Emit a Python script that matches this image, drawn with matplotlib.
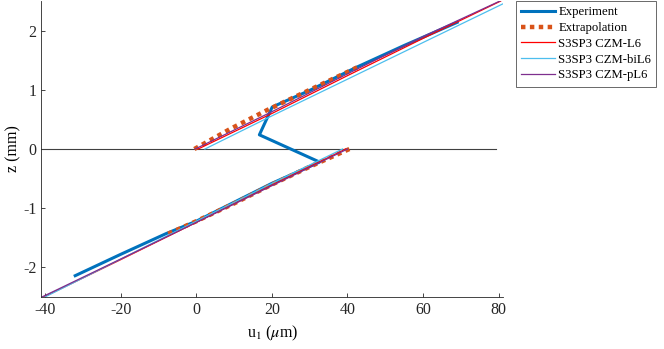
# Through-thickness displacement profile u1(z): experiment, extrapolation and CZM models

import matplotlib
matplotlib.use("Agg")
import matplotlib.pyplot as plt

plt.rcParams['font.family'] = ['Liberation Serif', 'DejaVu Serif']
plt.rcParams['mathtext.fontset'] = 'stix'
plt.rcParams['axes.unicode_minus'] = False

# Experiment (single polyline, lower branch -> kink -> upper branch)
exp_u = [-32, -20, -8, 0, 10, 20, 32.6, 16.7, 20.1, 30, 42, 55, 69]
exp_z = [-2.14, -1.78, -1.43, -1.22, -0.9, -0.58, -0.22, 0.24, 0.71, 0.99, 1.37, 1.75, 2.14]

# Extrapolation, upper and lower branches
ext_up_u = [-0.5, 9, 18.8, 30, 42.9]
ext_up_z = [0, 0.34, 0.66, 1.0, 1.39]
ext_lo_u = [-7.4, 0, 10, 20, 30, 40.5]
ext_lo_z = [-1.43, -1.22, -0.92, -0.6, -0.3, 0]

# Models, upper branches
L6_up_u = [0.5, 20, 40, 60, 80.5]
L6_up_z = [0, 0.6, 1.24, 1.87, 2.5]
biL6_up_u = [2.3, 20, 40, 60, 81]
biL6_up_z = [0, 0.56, 1.18, 1.8, 2.45]
pL6_up_u = [-0.3, 20, 40, 60, 80.3]
pL6_up_z = [0, 0.63, 1.27, 1.9, 2.5]

# Models, lower branches
L6_lo_u = [-40.3, -20, 0, 20, 39.5]
L6_lo_z = [-2.5, -1.87, -1.24, -0.61, 0]
biL6_lo_u = [-40, -20, 0, 20, 38.7]
biL6_lo_z = [-2.5, -1.86, -1.22, -0.58, 0]
pL6_lo_u = [-40.8, -20, 0, 20, 40]
pL6_lo_z = [-2.5, -1.86, -1.24, -0.62, 0]

# Interface line z = 0
iface_u = [-41, 79.2]
iface_z = [0, 0]

c_exp = '#0072BD'
c_ext = '#D95319'
c_L6 = '#FF0000'
c_biL6 = '#4DBEEE'
c_pL6 = '#7E2F8E'

fig = plt.figure(figsize=(6.64, 3.49), dpi=100)
ax = fig.add_axes([0.062, 0.149, 0.696, 0.848])

ax.plot(iface_u, iface_z, color='#404040', lw=0.8)

l1 = ax.plot(exp_u, exp_z, color=c_exp, lw=2.2, label='Experiment')
l2 = ax.plot(ext_up_u, ext_up_z, color=c_ext, lw=3.2, dashes=(1, 1),
             dash_capstyle='butt', label='Extrapolation')
ax.plot(ext_lo_u, ext_lo_z, color=c_ext, lw=3.2, dashes=(1, 1), dash_capstyle='butt')
l3 = ax.plot(L6_up_u, L6_up_z, color=c_L6, lw=0.9, label='S3SP3 CZM-L6')
ax.plot(L6_lo_u, L6_lo_z, color=c_L6, lw=0.9)
l4 = ax.plot(biL6_up_u, biL6_up_z, color=c_biL6, lw=0.9, label='S3SP3 CZM-biL6')
ax.plot(biL6_lo_u, biL6_lo_z, color=c_biL6, lw=0.9)
l5 = ax.plot(pL6_up_u, pL6_up_z, color=c_pL6, lw=0.9, label='S3SP3 CZM-pL6')
ax.plot(pL6_lo_u, pL6_lo_z, color=c_pL6, lw=0.9)

ax.set_xlim([-41, 81.2])
ax.set_ylim([-2.5, 2.5])
ax.set_xticks([-40, -20, 0, 20, 40, 60, 80])
ax.set_yticks([-2, -1, 0, 1, 2])
ax.tick_params(direction='in', labelsize=11.5, length=3, width=0.6, colors='#262626')
ax.spines['top'].set_visible(False)
ax.spines['right'].set_visible(False)
for s in ('left', 'bottom'):
    ax.spines[s].set_linewidth(0.6)
    ax.spines[s].set_color('#262626')

ax.set_xlabel(r'u$_1$ ($\mu$m)', fontsize=11.5, labelpad=4)
ax.set_ylabel('z (mm)', fontsize=11.5, labelpad=1)

lns = l1 + l2 + l3 + l4 + l5
labels = [l.get_label() for l in lns]
leg = ax.legend(lns, labels, loc='upper left', bbox_to_anchor=(1.028, 1.0),
                fontsize=9.2, frameon=True, fancybox=False, edgecolor='#262626',
                handlelength=2.6, handletextpad=0.3, borderpad=0.4,
                labelspacing=0.3, borderaxespad=0.0)
leg.get_frame().set_linewidth(0.6)

plt.savefig('out.png', dpi=100)
